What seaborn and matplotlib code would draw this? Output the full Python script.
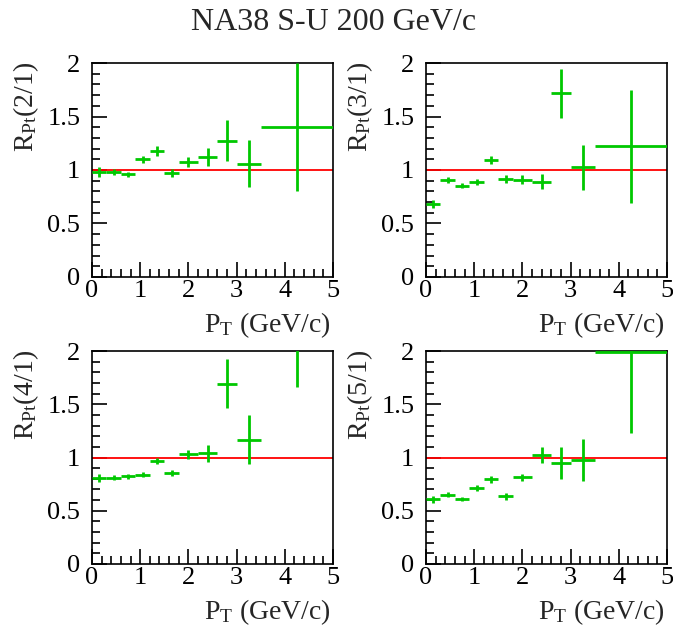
import matplotlib
matplotlib.use("Agg")
import matplotlib.pyplot as plt
from matplotlib.ticker import MultipleLocator, FuncFormatter
import numpy as np
import pandas as pd
import seaborn as sns

# pT binning (GeV/c)
bin_edges = [0.0, 0.3, 0.6, 0.9, 1.2, 1.5, 1.8, 2.2, 2.6, 3.0, 3.5, 5.0]

# ratio of pT spectra between E_T bins, with statistical errors
ratio_2_1 = [0.98, 0.98, 0.96, 1.10, 1.18, 0.97, 1.075, 1.12, 1.275, 1.06, 1.40]
err_2_1 = [0.047, 0.025, 0.025, 0.035, 0.045, 0.04, 0.047, 0.086, 0.19, 0.22, 0.60]

ratio_3_1 = [0.68, 0.91, 0.853, 0.884, 1.094, 0.916, 0.91, 0.888, 1.716, 1.025, 1.22]
err_3_1 = [0.037, 0.028, 0.025, 0.028, 0.034, 0.033, 0.044, 0.07, 0.23, 0.21, 0.525]

ratio_4_1 = [0.806, 0.812, 0.824, 0.837, 0.966, 0.853, 1.031, 1.041, 1.693, 1.169, 2.30]
err_4_1 = [0.037, 0.025, 0.024, 0.024, 0.031, 0.031, 0.044, 0.08, 0.23, 0.23, 0.64]

ratio_5_1 = [0.608, 0.65, 0.608, 0.712, 0.796, 0.636, 0.815, 1.022, 0.944, 0.975, 1.99]
err_5_1 = [0.033, 0.024, 0.02, 0.027, 0.031, 0.031, 0.034, 0.072, 0.15, 0.20, 0.76]

panel_labels = ["2/1", "3/1", "4/1", "5/1"]
title = "NA38 S-U 200 GeV/c"

sns.set_theme(style="ticks")
plt.rcParams["font.family"] = ["Liberation Serif", "DejaVu Serif"]
plt.rcParams["mathtext.fontset"] = "custom"
plt.rcParams["mathtext.rm"] = "Liberation Serif"
plt.rcParams["mathtext.it"] = "Liberation Serif:italic"

W, H = 673, 634
fig = plt.figure(figsize=(W / 100, H / 100), dpi=100)
fig.patch.set_facecolor("white")

edges = np.array(bin_edges)
centers = 0.5 * (edges[:-1] + edges[1:])
half_width = 0.5 * np.diff(edges)

series = [(ratio_2_1, err_2_1), (ratio_3_1, err_3_1),
          (ratio_4_1, err_4_1), (ratio_5_1, err_5_1)]

# pixel boxes of the four pads: (left, top, right, bottom)
boxes = [(92, 63, 333, 277), (426, 63, 667, 277),
         (92, 351, 333, 564), (426, 351, 667, 564)]

green = "#00c800"
for (vals, errs), lab, (l, t, r, b) in zip(series, panel_labels, boxes):
    ax = fig.add_axes([l / W, 1 - b / H, (r - l) / W, (b - t) / H])
    ax.set_facecolor("white")
    ref = pd.DataFrame({"pt": [0.0, 5.0], "r": [1.0, 1.0]})
    sns.lineplot(data=ref, x="pt", y="r", ax=ax, color="#ff0000", lw=1.3, zorder=2)
    ax.errorbar(centers, vals, xerr=half_width, yerr=errs, fmt="none",
                ecolor=green, elinewidth=2.0, capsize=0, zorder=3)
    ax.set_xlim(0, 5)
    ax.set_ylim(0, 2)
    ax.set_xlabel("")
    ax.set_ylabel("")
    ax.xaxis.set_major_locator(MultipleLocator(1))
    ax.xaxis.set_minor_locator(MultipleLocator(0.2))
    ax.yaxis.set_major_locator(MultipleLocator(0.5))
    ax.yaxis.set_minor_locator(MultipleLocator(0.1))
    ax.xaxis.set_major_formatter(FuncFormatter(lambda v, p: f"{v:g}"))
    ax.yaxis.set_major_formatter(FuncFormatter(lambda v, p: f"{v:g}"))
    ax.tick_params(which="both", direction="in", top=False, right=False,
                   colors="black", width=1.2, labelsize=19)
    ax.tick_params(which="major", length=10.8)
    ax.tick_params(which="minor", length=5.8)
    ax.tick_params(axis="y", pad=8.5)
    ax.tick_params(axis="x", pad=2)
    for s in ax.spines.values():
        s.set_color("black")
        s.set_linewidth(1.2)
    ax.grid(False)

    fig.text((l - 66) / W, 1 - (t - 1) / H, r"R$_{\mathrm{Pt}}$(" + lab + ")",
             rotation=90, ha="center", va="top", fontsize=20)
    fig.text((r - 2) / W, 1 - (b + 55) / H, r"P$_{\mathrm{T}}$ (GeV/c)",
             ha="right", va="baseline", fontsize=20)

fig.text(334 / W, 1 - 30 / H, title, ha="center", va="baseline", fontsize=23)

fig.savefig("out.png", dpi=100, facecolor="white")
